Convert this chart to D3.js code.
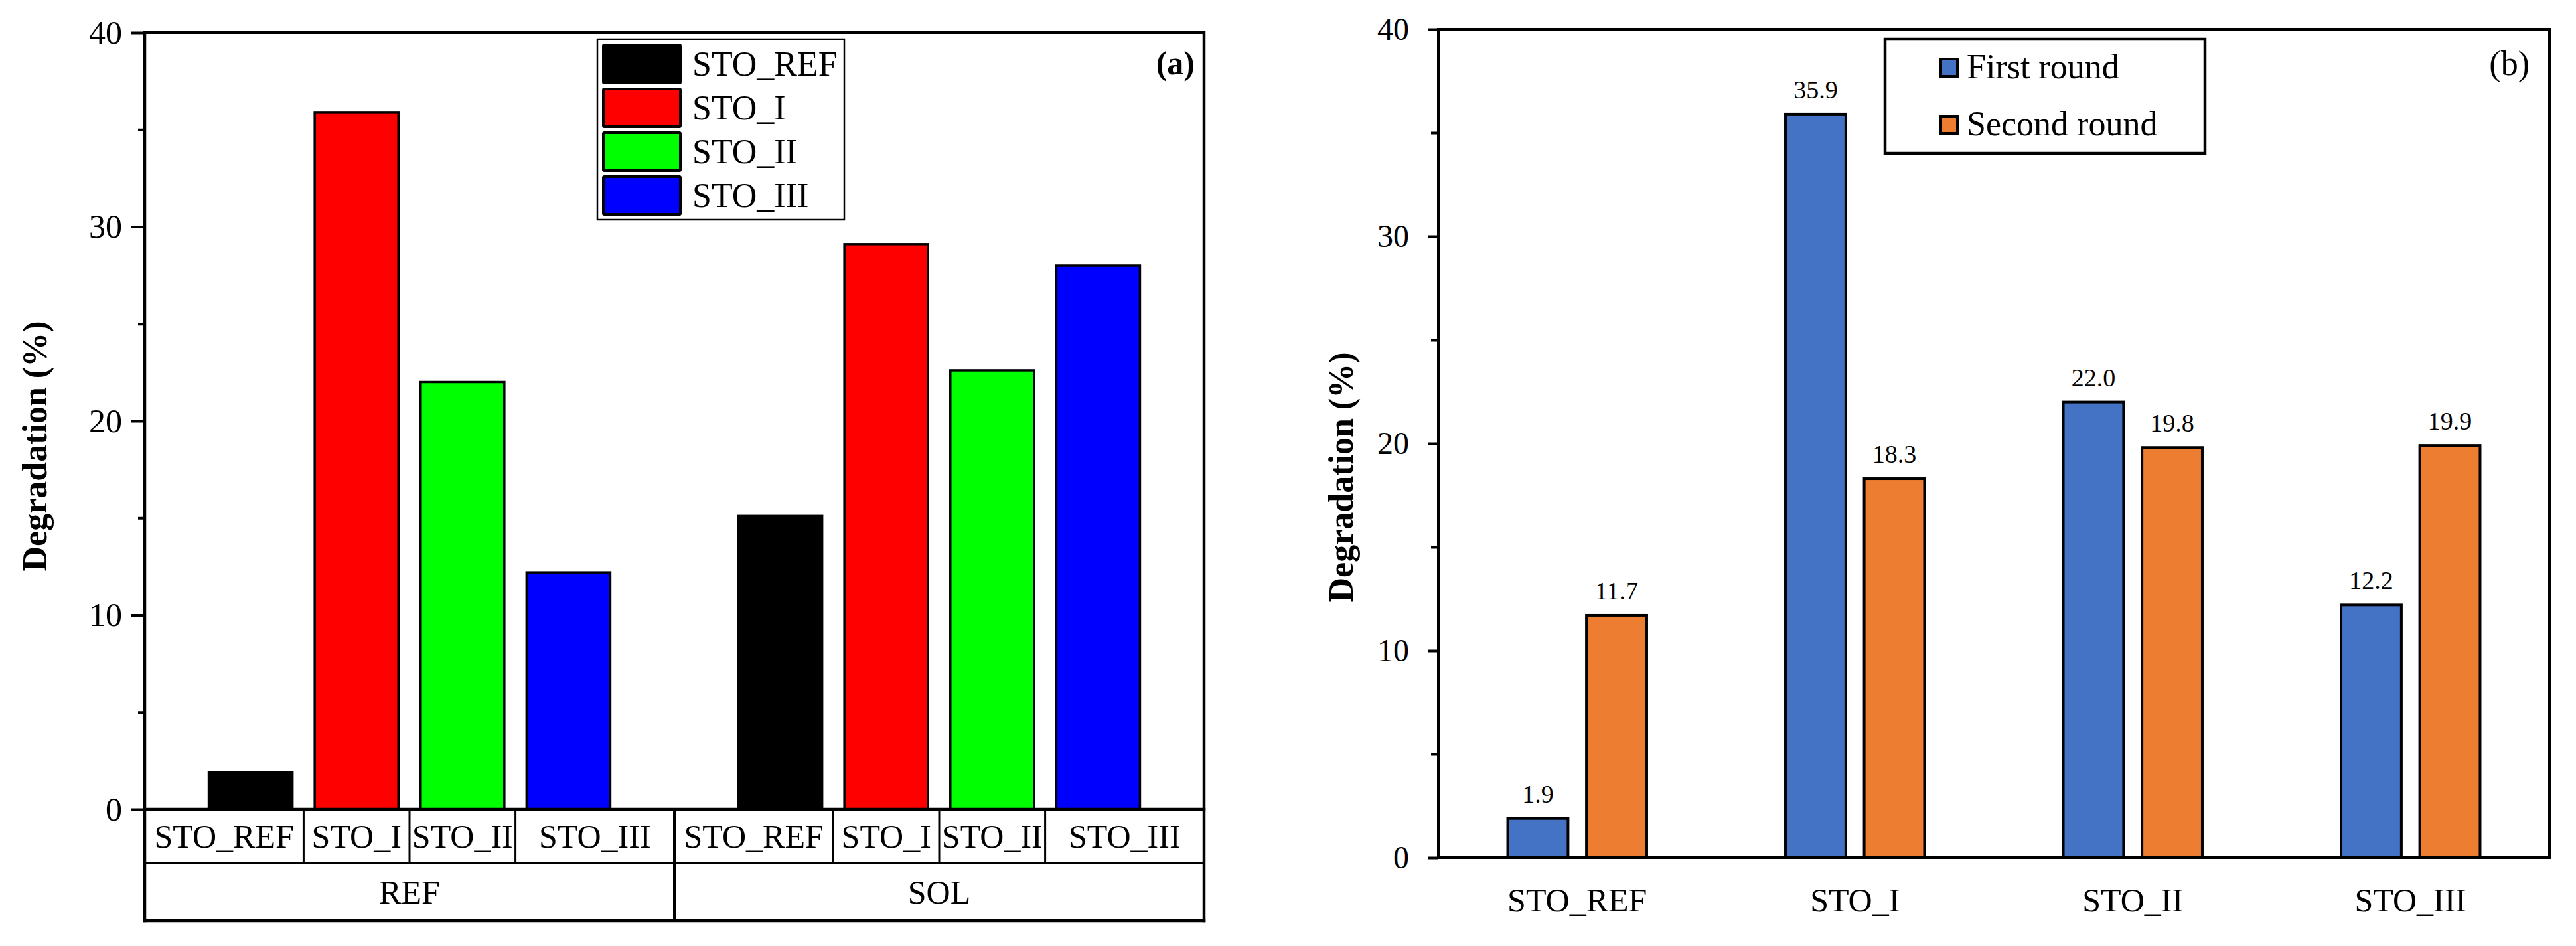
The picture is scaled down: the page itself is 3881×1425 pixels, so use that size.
<!DOCTYPE html>
<html>
<head>
<meta charset="utf-8">
<script src="https://cdn.jsdelivr.net/npm/d3@7"></script>
<style>
  body { margin: 0; background: #fff; }
  svg { display: block; }
  text { font-family: "Liberation Serif", "Times New Roman", serif; fill: #000; }
</style>
</head>
<body>
<svg id="chart" width="3881" height="1425"></svg>
<script>
// ---- data, panel (a) ----
const groupsA = ["REF", "SOL"];
const samplesA = ["STO_REF", "STO_I", "STO_II", "STO_III"];
const refValues = [1.9, 35.9, 22.0, 12.2];
const solValues = [15.1, 29.1, 22.6, 28.0];
const colorsA = ["#000000", "#ff0000", "#00ff00", "#0000ff"];

// ---- data, panel (b) ----
const categoriesB = ["STO_REF", "STO_I", "STO_II", "STO_III"];
const seriesB = ["First round", "Second round"];
const firstRound = [1.9, 35.9, 22.0, 12.2];
const secondRound = [11.7, 18.3, 19.8, 19.9];
const colorsB = ["#4472c4", "#ed7d31"];

const yTicks = [0, 10, 20, 30, 40];
const yMinorTicks = [5, 15, 25, 35];

const svg = d3.select("#chart");
svg.append("rect").attr("width", 3881).attr("height", 1425).attr("fill", "#fff");

/**
 * Left panel: grouped bars with a two-row category table under the axis
 */
function panelA() {
    const g = svg.append("g");
    const x = d3.scaleLinear().domain([-1, 9]).range([218, 1814]);
    const y = d3.scaleLinear().domain([0, 40]).range([1219, 49]);
    const barW = 0.79 * (x(1) - x(0));
    const row1 = 1300, row2 = 1387;

    // bars
    const rows = [];
    groupsA.forEach((grp, gi) => {
        const vals = gi === 0 ? refValues : solValues;
        samplesA.forEach((s, i) => rows.push({ grp: gi, i: i, name: s, v: vals[i], pos: gi * 5 + i }));
    });
    g.selectAll(".barA")
        .data(rows)
        .enter().append("rect")
        .attr("x", d => x(d.pos) - barW / 2)
        .attr("y", d => y(d.v))
        .attr("width", barW)
        .attr("height", d => y(0) - y(d.v))
        .attr("fill", d => colorsA[d.i])
        .attr("stroke", "#000")
        .attr("stroke-width", 3.5);

    // y axis ticks
    const major = g.append("g")
        .attr("transform", `translate(${x(-1)},0)`)
        .call(d3.axisLeft(y).tickValues(yTicks).tickSize(20).tickPadding(14).tickSizeOuter(0));
    major.select(".domain").remove();
    major.selectAll("line").attr("stroke-width", 4);
    major.selectAll("text").style("font-size", "50px").style("font-family", "Liberation Serif");
    const minor = g.append("g")
        .attr("transform", `translate(${x(-1)},0)`)
        .call(d3.axisLeft(y).tickValues(yMinorTicks).tickSize(10).tickFormat(""));
    minor.select(".domain").remove();
    minor.selectAll("line").attr("stroke-width", 4);

    // frame (axis box extended down through the table)
    const line = (x1, y1, x2, y2, w) => g.append("line")
        .attr("x1", x1).attr("y1", y1).attr("x2", x2).attr("y2", y2)
        .attr("stroke", "#000").attr("stroke-width", w).attr("stroke-linecap", "square");
    line(x(-1), y(40), x(9), y(40), 4);
    line(x(-1), y(40), x(-1), row2, 4.5);
    line(x(9), y(40), x(9), row2, 4.5);
    line(x(-1), y(0), x(9), y(0), 4.5);
    line(x(-1), row1, x(9), row1, 4);
    line(x(-1), row2, x(9), row2, 4.5);
    line(x(4), y(0), x(4), row2, 4);

    // category table
    groupsA.forEach((grp, gi) => {
        const base = gi * 5;
        [0.5, 1.5, 2.5].forEach(o => line(x(base + o), y(0), x(base + o), row1, 3));
        samplesA.forEach((s, i) => {
            const left = i === 0 ? base - 1 : base + i - 0.5;
            const right = i === samplesA.length - 1 ? base + 4 : base + i + 0.5;
            g.append("text")
                .attr("x", (x(left) + x(right)) / 2)
                .attr("y", (y(0) + row1) / 2 + 17)
                .attr("text-anchor", "middle")
                .style("font-size", "50px")
                .text(s);
        });
        g.append("text")
            .attr("x", (x(base - 1) + x(base + 4)) / 2)
            .attr("y", (row1 + row2) / 2 + 17)
            .attr("text-anchor", "middle")
            .style("font-size", "50px")
            .text(grp);
    });

    // legend
    const leg = g.append("g");
    leg.append("rect")
        .attr("x", 900).attr("y", 59).attr("width", 372).attr("height", 272)
        .attr("fill", "#fff").attr("stroke", "#000").attr("stroke-width", 2.5);
    samplesA.forEach((s, i) => {
        const top = 66 + i * 66;
        leg.append("rect")
            .attr("x", 909).attr("y", top + 2).attr("width", 116).attr("height", 57)
            .attr("fill", colorsA[i]).attr("stroke", "#000").attr("stroke-width", 4)
            .attr("rx", 1.5);
        leg.append("text")
            .attr("x", 1043).attr("y", top + 48)
            .style("font-size", "52px")
            .text(s);
    });

    // panel tag
    g.append("text")
        .attr("x", 1800).attr("y", 112)
        .attr("text-anchor", "end")
        .style("font-size", "50px").style("font-weight", "bold")
        .text("(a)");

    // y label
    g.append("text")
        .attr("transform", "translate(70,672) rotate(-90)")
        .attr("text-anchor", "middle")
        .style("font-size", "52px").style("font-weight", "bold")
        .text("Degradation (%)");
}

/**
 * Right panel: first vs second round, grouped bars with value labels
 */
function panelB() {
    const g = svg.append("g");
    const x = d3.scaleBand().domain(categoriesB).range([2167, 3841]);
    const bw = x.bandwidth();
    const sub = d3.scaleBand().domain(seriesB).range([0.245 * bw, 0.755 * bw]).paddingInner(0.2);
    const y = d3.scaleLinear().domain([0, 40]).range([1292, 44]);

    const rows = [];
    categoriesB.forEach((c, i) => {
        rows.push({ cat: c, s: seriesB[0], v: firstRound[i], k: 0 });
        rows.push({ cat: c, s: seriesB[1], v: secondRound[i], k: 1 });
    });

    g.selectAll(".barB")
        .data(rows)
        .enter().append("rect")
        .attr("x", d => x(d.cat) + sub(d.s) + 2)
        .attr("y", d => y(d.v))
        .attr("width", sub.bandwidth() - 4)
        .attr("height", d => y(0) - y(d.v))
        .attr("fill", d => colorsB[d.k])
        .attr("stroke", "#000")
        .attr("stroke-width", 4);

    g.selectAll(".valB")
        .data(rows)
        .enter().append("text")
        .attr("x", d => x(d.cat) + sub(d.s) + sub.bandwidth() / 2)
        .attr("y", d => y(d.v) - 24)
        .attr("text-anchor", "middle")
        .style("font-size", "38px")
        .text(d => d.v.toFixed(1));

    // frame
    g.append("rect")
        .attr("x", x.range()[0]).attr("y", y(40))
        .attr("width", x.range()[1] - x.range()[0]).attr("height", y(0) - y(40))
        .attr("fill", "none").attr("stroke", "#000").attr("stroke-width", 4);

    // y axis ticks
    const major = g.append("g")
        .attr("transform", `translate(${x.range()[0]},0)`)
        .call(d3.axisLeft(y).tickValues(yTicks).tickSize(16).tickPadding(28).tickSizeOuter(0));
    major.select(".domain").remove();
    major.selectAll("line").attr("stroke-width", 4);
    major.selectAll("text").style("font-size", "48px").style("font-family", "Liberation Serif");
    const minor = g.append("g")
        .attr("transform", `translate(${x.range()[0]},0)`)
        .call(d3.axisLeft(y).tickValues(yMinorTicks).tickSize(11).tickFormat(""));
    minor.select(".domain").remove();
    minor.selectAll("line").attr("stroke-width", 4);

    // x labels
    g.selectAll(".catB")
        .data(categoriesB)
        .enter().append("text")
        .attr("x", d => x(d) + bw / 2)
        .attr("y", 1373)
        .attr("text-anchor", "middle")
        .style("font-size", "50px")
        .text(d => d);

    // legend
    const leg = g.append("g");
    leg.append("rect")
        .attr("x", 2840).attr("y", 59).attr("width", 482).attr("height", 172)
        .attr("fill", "#fff").attr("stroke", "#000").attr("stroke-width", 4.5);
    seriesB.forEach((s, i) => {
        const top = 87 + i * 86;
        leg.append("rect")
            .attr("x", 2924).attr("y", top + 2).attr("width", 25).attr("height", 26)
            .attr("fill", colorsB[i]).attr("stroke", "#000").attr("stroke-width", 4);
        leg.append("text")
            .attr("x", 2963).attr("y", top + 31)
            .style("font-size", "52px")
            .text(s);
    });

    g.append("text")
        .attr("x", 3811).attr("y", 113)
        .attr("text-anchor", "end")
        .style("font-size", "52px")
        .text("(b)");

    g.append("text")
        .attr("transform", "translate(2038,719) rotate(-90)")
        .attr("text-anchor", "middle")
        .style("font-size", "52px").style("font-weight", "bold")
        .text("Degradation (%)");
}

panelA();
panelB();
</script>
</body>
</html>
